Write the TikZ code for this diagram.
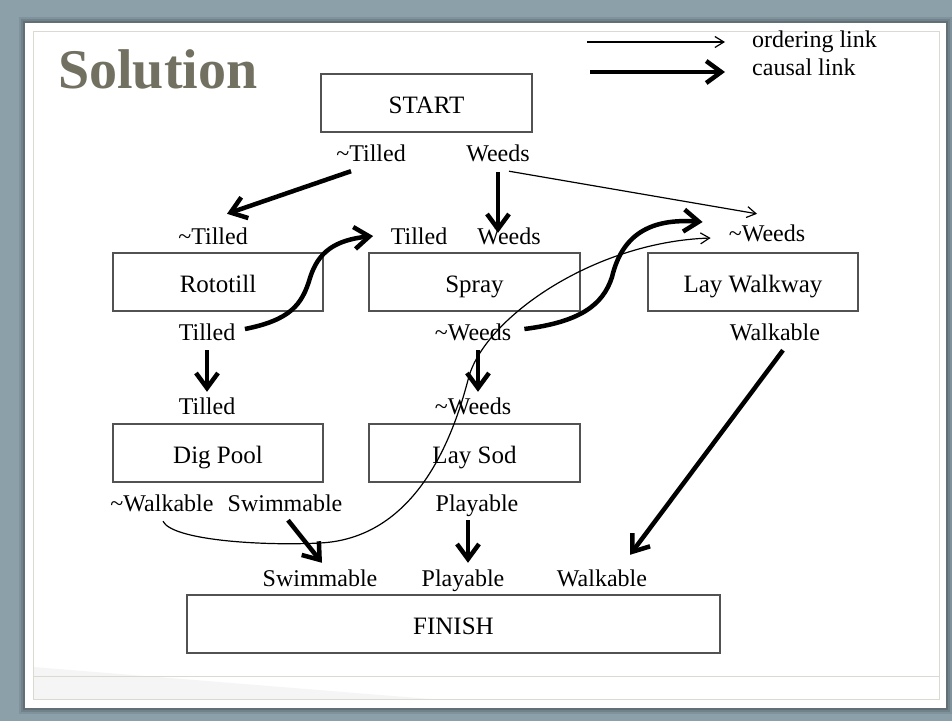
\documentclass[tikz,border=0pt]{standalone}
\usepackage{fontspec}
\setmainfont{Liberation Serif}
\usetikzlibrary{arrows.meta,shadows}
\definecolor{slatebg}{RGB}{140,160,170}
\definecolor{framegray}{RGB}{218,218,210}
\definecolor{titleolive}{RGB}{114,112,96}
\definecolor{boxline}{RGB}{82,82,82}
\newcommand{\tl}{\textasciitilde}

\begin{document}
\begin{tikzpicture}[x=1pt,y=-1pt,
  lbl/.style={anchor=base,inner sep=0pt,text height=16pt,text depth=5pt,
    font=\fontsize{24}{28}\selectfont},
  act/.style={draw=boxline,line width=1.4pt,fill=white,minimum height=58pt,
    text height=20pt,text depth=0pt,inner sep=0pt,font=\fontsize{25}{29}\selectfont,
    drop shadow={shadow xshift=0.8pt,shadow yshift=-1.2pt,opacity=0.3}},
  causal/.style={line width=4.5pt,-{Straight Barb[length=15pt,width=22pt]}},
  order/.style={line width=1.2pt,-{Straight Barb[length=9pt,width=11pt]}},
  legtext/.style={anchor=base west,inner sep=0pt,font=\fontsize{24}{28}\selectfont}
]
\useasboundingbox (0,0) rectangle (952,721);

% slide background, panel and frame
\fill[slatebg] (0,0) rectangle (952,721);
\foreach \d/\o in {6/0.12,4/0.16,2/0.22}
  \fill[black!70!slatebg,opacity=\o] (25-\d,23-\d) rectangle (946+\d,708+\d);
\fill[white] (25,23) rectangle (946,708);
\fill[black!4] (33,667) -- (430,699) -- (33,699) -- cycle;
\draw[framegray,line width=1pt] (33,31) rectangle (939,699);
\draw[framegray,line width=1pt] (33,676) -- (939,676);

% title
\node[anchor=base west,inner sep=0pt,text=titleolive,
  font=\fontsize{56}{60}\selectfont\bfseries] (title) at (58,88) {Solution};

% legend
\node[legtext] (legord) at (752,47) {ordering link};
\node[legtext] (legcau) at (752,75) {causal link};
\coordinate (lo) at (587,42);
\coordinate (lc) at (590,72);
\draw[order] (lo) -- ++(138,0);
\draw[causal] (lc) -- ++(135,0);

% actions
\node[act,minimum width=211pt] (start) at (426.5,103) {START};
\node[act,minimum width=210pt] (roto)  at (218,282)   {Rototill};
\node[act,minimum width=211pt] (spray) at (474.5,282) {Spray};
\node[act,minimum width=210pt] (walk)  at (753,282)   {Lay Walkway};
\node[act,minimum width=210pt] (pool)  at (218,453)   {Dig Pool};
\node[act,minimum width=211pt] (sod)   at (474.5,453) {Lay Sod};
\node[act,minimum width=533pt] (fin)   at (453.5,624) {FINISH};

% conditions
\node[lbl] (s1)     at (371,161) {\tl Tilled};
\node[lbl] (s2)     at (498,161) {Weeds};
\node[lbl] (rin)    at (213,244) {\tl Tilled};
\node[lbl] (spin1)  at (419,244) {Tilled};
\node[lbl] (spin2)  at (509,244) {Weeds};
\node[lbl] (lwin)   at (767,241) {\tl Weeds};
\node[lbl] (rout)   at (207,340) {Tilled};
\node[lbl] (spout)  at (473,340) {\tl Weeds};
\node[lbl] (lwout)  at (775,340) {Walkable};
\node[lbl] (dpin)   at (207,414) {Tilled};
\node[lbl] (lsin)   at (473,414) {\tl Weeds};
\node[lbl] (dpout1) at (162,511) {\tl Walkable};
\node[lbl] (dpout2) at (285,511) {Swimmable};
\node[lbl] (lsout)  at (477,511) {Playable};
\node[lbl] (f1)     at (320,586) {Swimmable};
\node[lbl] (f2)     at (463,586) {Playable};
\node[lbl] (f3)     at (602,586) {Walkable};

% causal links
\draw[causal] ([xshift=-20pt,yshift=-5pt]s1.south) -- ([xshift=14pt,yshift=14pt]rin.north);
\draw[causal] ([yshift=-6pt]s2.south) -- ([xshift=-11pt,yshift=-5pt]spin2.north);
\draw[causal] ([xshift=9.5pt,yshift=5.5pt]rout.east)
  .. controls (290,320) and (302,305) .. (310,278)
  .. controls (318,252) and (335,240) .. ([xshift=-17.5pt,yshift=2.5pt]spin1.west);
\draw[causal] ([yshift=-5pt]rout.south) -- ([yshift=6pt]dpin.north);
\draw[causal] ([xshift=13pt,yshift=5.5pt]spout.east)
  .. controls (580,322) and (603,305) .. (612,277)
  .. controls (622,235) and (650,218) .. ([xshift=-26pt,yshift=13.5pt]lwin.west);
\draw[causal] ([xshift=5pt,yshift=-5pt]spout.south) -- ([xshift=5pt,yshift=6pt]lsin.north);
\draw[causal] ([xshift=8pt,yshift=-5pt]lwout.south) -- ([xshift=28pt,yshift=15pt]f3.north);
\draw[causal] ([xshift=3pt,yshift=-4pt]dpout2.south) -- ([xshift=2pt,yshift=7pt]f1.north);
\draw[causal] ([xshift=-9pt,yshift=-4pt]lsout.south) -- ([xshift=5pt,yshift=7pt]f2.north);

% ordering links
\draw[order] ([xshift=11pt,yshift=-5pt]s2.south) -- ([xshift=-10pt,yshift=11pt]lwin.north);
\draw[order] ([xshift=1pt,yshift=-5pt]dpout1.south)
  .. controls (172,540) and (260,546) .. (320,543)
  .. controls (420,538) and (455,429) .. (468,380)
  .. controls (482,320) and (592,242) .. ([xshift=-18pt,yshift=-2.5pt]lwin.west);
\end{tikzpicture}
\end{document}
